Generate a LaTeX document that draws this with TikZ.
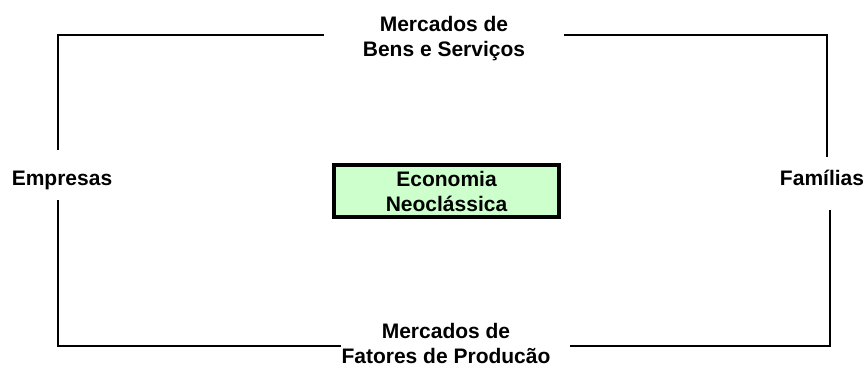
\documentclass[tikz,border=0pt]{standalone}
\usepackage{fontspec}
\setmainfont{Liberation Sans}
\tikzset{
  label/.style={font=\bfseries\fontsize{21}{25}\selectfont, align=center, inner sep=0pt},
  wire/.style={line width=1.2pt}
}
\begin{document}
\begin{tikzpicture}[x=1pt, y=-1pt]
        \useasboundingbox (0,0) rectangle (866,367);
        \node[label, anchor=base, text height=35pt, text depth=15pt] (emp) at (62,185) {Empresas};
        \node[label, anchor=base, text height=28pt, text depth=25pt] (fam) at (822,185) {Famílias};
        \node[label, inner xsep=39pt] (mbs) at (444,39) {Mercados de\\Bens e Serviços};
        \node[label] (mfp) at (446,343) {Mercados de\\Fatores de Producão};
        \node[label, draw, line width=4pt, fill={rgb,255:red,204;green,255;blue,204},
              minimum width=225pt, minimum height=52pt] (neo) at (446.5,191) {Economia\\Neoclássica};
        \coordinate (tl) at (58,35);
        \coordinate (tr) at (827,35);
        \coordinate (bl) at (58,346);
        \coordinate (br) at (830,346);
        \coordinate (mfpe) at ([xshift=19pt]mfp.east);
        \draw[wire] (emp.north -| tl) -- (tl) -- (tl -| mbs.west);
        \draw[wire] (tr -| mbs.east) -- (tr) -- (fam.north -| tr);
        \draw[wire] (emp.south -| bl) -- (bl) -- (bl -| mfp.west);
        \draw[wire] (br -| mfpe) -- (br) -- (fam.south -| br);
    \end{tikzpicture}
\end{document}
